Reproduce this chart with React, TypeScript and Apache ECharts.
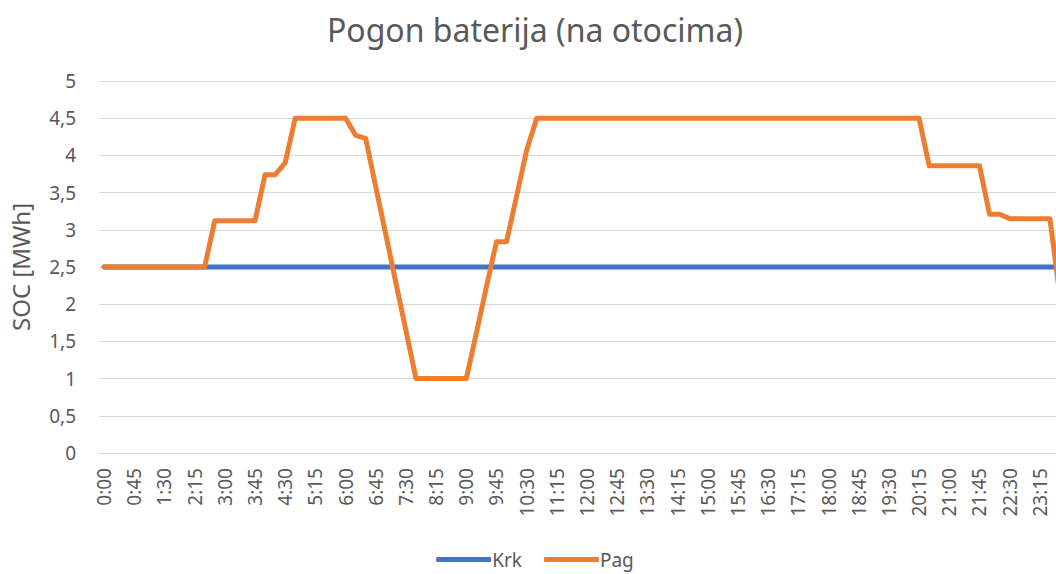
import React, { useEffect, useRef } from "react";
import * as echarts from "echarts";

const titleText = "Pogon baterija (na otocima)";
const yAxisName = "SOC [MWh]";

// 15-minute time slots 0:00 .. 23:45
const times: string[] = [];
for (let h = 0; h < 24; h++) {
  for (const m of ["00", "15", "30", "45"]) times.push(`${h}:${m}`);
}

const krk = [
  2.5, 2.5, 2.5, 2.5, 2.5, 2.5, 2.5, 2.5, 2.5, 2.5, 2.5, 2.5,
  2.5, 2.5, 2.5, 2.5, 2.5, 2.5, 2.5, 2.5, 2.5, 2.5, 2.5, 2.5,
  2.5, 2.5, 2.5, 2.5, 2.5, 2.5, 2.5, 2.5, 2.5, 2.5, 2.5, 2.5,
  2.5, 2.5, 2.5, 2.5, 2.5, 2.5, 2.5, 2.5, 2.5, 2.5, 2.5, 2.5,
  2.5, 2.5, 2.5, 2.5, 2.5, 2.5, 2.5, 2.5, 2.5, 2.5, 2.5, 2.5,
  2.5, 2.5, 2.5, 2.5, 2.5, 2.5, 2.5, 2.5, 2.5, 2.5, 2.5, 2.5,
  2.5, 2.5, 2.5, 2.5, 2.5, 2.5, 2.5, 2.5, 2.5, 2.5, 2.5, 2.5,
  2.5, 2.5, 2.5, 2.5, 2.5, 2.5, 2.5, 2.5, 2.5, 2.5, 2.5, 2.5,
];

const pag = [
  // 0:00 - 2:45
  2.5, 2.5, 2.5, 2.5, 2.5, 2.5, 2.5, 2.5, 2.5, 2.5, 2.5, 3.12,
  // 3:00 - 5:45
  3.12, 3.12, 3.12, 3.12, 3.74, 3.74, 3.9, 4.5, 4.5, 4.5, 4.5, 4.5,
  // 6:00 - 8:45
  4.5, 4.27, 4.23, 3.58, 2.94, 2.29, 1.65, 1.0, 1.0, 1.0, 1.0, 1.0,
  // 9:00 - 11:45
  1.0, 1.61, 2.23, 2.84, 2.84, 3.45, 4.07, 4.5, 4.5, 4.5, 4.5, 4.5,
  // 12:00 - 14:45
  4.5, 4.5, 4.5, 4.5, 4.5, 4.5, 4.5, 4.5, 4.5, 4.5, 4.5, 4.5,
  // 15:00 - 17:45
  4.5, 4.5, 4.5, 4.5, 4.5, 4.5, 4.5, 4.5, 4.5, 4.5, 4.5, 4.5,
  // 18:00 - 20:45
  4.5, 4.5, 4.5, 4.5, 4.5, 4.5, 4.5, 4.5, 4.5, 4.5, 3.86, 3.86,
  // 21:00 - 23:45
  3.86, 3.86, 3.86, 3.86, 3.21, 3.21, 3.15, 3.15, 3.15, 3.15, 3.15, 2.1,
];

const yTicks = { min: 0, max: 5, interval: 0.5 };

const FONT = "'Noto Sans', sans-serif";
const GREY = "#595959";

export default function App() {
  const ref = useRef<HTMLDivElement>(null);
  useEffect(() => {
    if (!ref.current) return;
    const chart = echarts.init(ref.current, undefined, { renderer: "svg" });
    chart.setOption({
      animation: false,
      backgroundColor: "#ffffff",
      textStyle: { fontFamily: FONT },
      title: {
        text: titleText,
        left: "center",
        top: 8,
        textStyle: { fontFamily: FONT, fontSize: 32, fontWeight: "normal", color: GREY },
      },
      legend: {
        top: 545,
        left: "center",
        itemWidth: 55,
        itemHeight: 5,
        itemGap: 22,
        icon: "roundRect",
        textStyle: { fontFamily: FONT, fontSize: 19, color: GREY, padding: [0, 0, 0, -4] },
        data: ["Krk", "Pag"],
      },
      grid: { left: 97, top: 81, width: 968, height: 372, containLabel: false },
      xAxis: {
        type: "category",
        data: times,
        boundaryGap: true,
        axisLine: { lineStyle: { color: "#d9d9d9", width: 1 } },
        axisTick: { show: false },
        axisLabel: {
          interval: 2,
          rotate: 90,
          margin: 15,
          fontFamily: FONT,
          fontSize: 19,
          color: GREY,
        },
      },
      yAxis: {
        type: "value",
        min: yTicks.min,
        max: yTicks.max,
        interval: yTicks.interval,
        name: yAxisName,
        nameLocation: "middle",
        nameGap: 67,
        nameRotate: 90,
        nameTextStyle: { fontFamily: FONT, fontSize: 24, color: GREY },
        axisLine: { show: false },
        axisTick: { show: false },
        splitLine: { lineStyle: { color: "#d9d9d9", width: 1 } },
        axisLabel: {
          margin: 23,
          fontFamily: FONT,
          fontSize: 19,
          color: GREY,
          formatter: (v: number) => String(v).replace(".", ","),
        },
      },
      series: [
        {
          name: "Krk",
          type: "line",
          data: krk,
          symbol: "none",
          itemStyle: { color: "#4472C4" },
          lineStyle: { color: "#4472C4", width: 5, cap: "round", join: "round" },
        },
        {
          name: "Pag",
          type: "line",
          data: pag,
          symbol: "none",
          itemStyle: { color: "#ED7D31" },
          lineStyle: { color: "#ED7D31", width: 5, cap: "round", join: "round" },
        },
      ],
    });
    return () => chart.dispose();
  }, []);
  return (
    <div
      ref={ref}
      style={{ position: "fixed", left: 0, top: 0, width: 1070, height: 574 }}
    />
  );
}
